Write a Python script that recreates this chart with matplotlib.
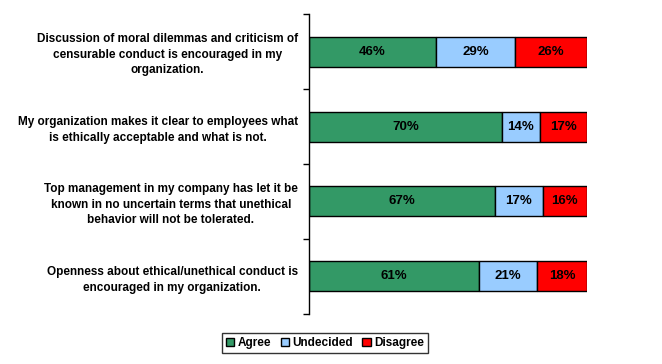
import numpy as np
import matplotlib.pyplot as plt

plt.rcParams['font.family'] = ['Liberation Sans', 'DejaVu Sans']

# Survey statements (top to bottom) and response shares in percent
statements = [
    "Discussion of moral dilemmas and criticism of\ncensurable conduct is encouraged in my\norganization.",
    "My organization makes it clear to employees what\nis ethically acceptable and what is not.",
    "Top management in my company has let it be\nknown in no uncertain terms that unethical\nbehavior will not be tolerated.",
    "Openness about ethical/unethical conduct is\nencouraged in my organization.",
]
agree = [46, 70, 67, 61]
undecided = [29, 14, 17, 21]
disagree = [26, 17, 16, 18]

series = [("Agree", agree, "#339966"),
          ("Undecided", undecided, "#99CCFF"),
          ("Disagree", disagree, "#FF0000")]

fig = plt.figure(figsize=(6.62, 3.64), dpi=100)
ax = fig.add_axes([0.4668, 0.1374, 0.42, 0.8241])

n = len(statements)
y = np.arange(n)
totals = np.array(agree) + np.array(undecided) + np.array(disagree)
left = np.zeros(n)
for name, vals, col in series:
    vals = np.array(vals, dtype=float)
    w = vals / totals * 100
    ax.barh(y, w, left=left, height=0.4, color=col, edgecolor="black",
            linewidth=1, label=name)
    for yi, li, wi, v in zip(y, left, w, vals):
        ax.text(li + wi / 2, yi, f"{int(v)}%", ha="center", va="center",
                fontsize=9.5, fontweight="bold")
    left += w

ax.set_xlim(0, 100)
ax.set_ylim(n - 0.5, -0.5)
ax.set_yticks(np.arange(-0.5, n, 1))
ax.set_yticklabels([])
ax.set_yticks(y, minor=True)
ax.set_yticklabels(statements, minor=True, fontsize=8.5, fontweight="bold",
                   multialignment="center", linespacing=1.4)
ax.tick_params(axis="y", which="minor", length=0, pad=8)
ax.tick_params(axis="y", which="major", length=4, width=1, direction="out")
ax.set_xticks([])
for s in ["top", "right", "bottom"]:
    ax.spines[s].set_visible(False)
ax.spines["left"].set_linewidth(1)

leg = fig.legend(loc="center", bbox_to_anchor=(325 / 662, 1 - 343 / 364),
                 ncol=3, frameon=True, fancybox=False, edgecolor="black",
                 handlelength=0.7, handleheight=0.7,
                 handletextpad=0.3, columnspacing=0.8, borderpad=0.35,
                 prop={"weight": "bold", "size": 8.5})
leg.get_frame().set_linewidth(1)

fig.savefig("out.png", dpi=100)
